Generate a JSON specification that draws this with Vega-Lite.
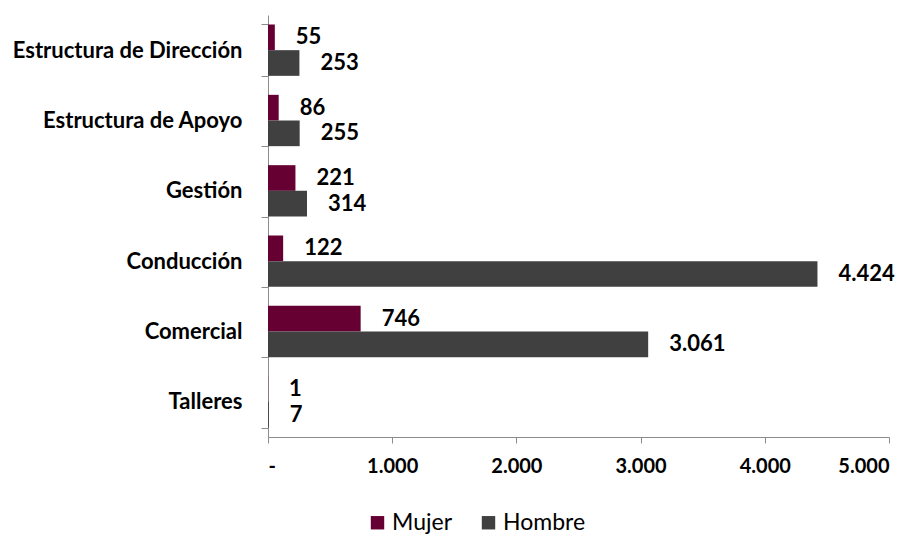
{
  "$schema": "https://vega.github.io/schema/vega-lite/v6.json",
  "width": 621,
  "height": 422,
  "autosize": {"type": "none"},
  "padding": {"left": 268, "top": 15, "right": 26, "bottom": 100},
  "background": "white",
  "config": {
    "locale": {"number": {"decimal": ",", "thousands": ".", "grouping": [3], "currency": ["€", ""]}},
    "font": "Lato",
    "view": {"stroke": null}
  },
  "data": {
    "values": [
      {"cat": "Estructura de Dirección", "sexo": "Mujer", "valor": 55},
      {"cat": "Estructura de Dirección", "sexo": "Hombre", "valor": 253},
      {"cat": "Estructura de Apoyo", "sexo": "Mujer", "valor": 86},
      {"cat": "Estructura de Apoyo", "sexo": "Hombre", "valor": 255},
      {"cat": "Gestión", "sexo": "Mujer", "valor": 221},
      {"cat": "Gestión", "sexo": "Hombre", "valor": 314},
      {"cat": "Conducción", "sexo": "Mujer", "valor": 122},
      {"cat": "Conducción", "sexo": "Hombre", "valor": 4424},
      {"cat": "Comercial", "sexo": "Mujer", "valor": 746},
      {"cat": "Comercial", "sexo": "Hombre", "valor": 3061},
      {"cat": "Talleres", "sexo": "Mujer", "valor": 1},
      {"cat": "Talleres", "sexo": "Hombre", "valor": 7}
    ]
  },
  "encoding": {
    "y": {
      "field": "cat",
      "type": "nominal",
      "sort": ["Estructura de Dirección", "Estructura de Apoyo", "Gestión", "Conducción", "Comercial", "Talleres"],
      "scale": {"paddingInner": 0.27, "paddingOuter": 0.135},
      "axis": {
        "title": null,
        "tickBand": "extent",
        "domainColor": "#8c8c8c",
        "tickColor": "#8c8c8c",
        "tickSize": 7,
        "labelPadding": 19,
        "labelFontSize": 22,
        "labelFontWeight": "bold",
        "labelColor": "#000000",
        "labelLimit": 300,
        "grid": false
      }
    },
    "yOffset": {"field": "sexo", "sort": ["Mujer", "Hombre"]},
    "x": {
      "field": "valor",
      "type": "quantitative",
      "scale": {"domain": [0, 5000], "nice": false},
      "axis": {
        "title": null,
        "values": [0, 1000, 2000, 3000, 4000, 5000],
        "format": ",d",
        "labelExpr": "datum.value == 0 ? '-' : datum.label",
        "grid": false,
        "domainColor": "#8c8c8c",
        "tickColor": "#8c8c8c",
        "tickSize": 6,
        "labelPadding": 13,
        "labelFontSize": 20,
        "labelFontWeight": "bold",
        "labelColor": "#000000"
      }
    }
  },
  "layer": [
    {
      "mark": {"type": "bar"},
      "encoding": {
        "color": {
          "field": "sexo",
          "type": "nominal",
          "sort": ["Mujer", "Hombre"],
          "scale": {"domain": ["Mujer", "Hombre"], "range": ["#660033", "#404040"]},
          "legend": {
            "title": null,
            "orient": "none",
            "legendX": 98,
            "legendY": 496,
            "direction": "horizontal",
            "symbolType": "square",
            "symbolSize": 180,
            "symbolStrokeWidth": 0,
            "labelFontSize": 23,
            "labelColor": "#000000",
            "labelFont": "Lato",
            "labelOffset": 3,
            "columnPadding": 24
          }
        }
      }
    },
    {
      "mark": {"type": "text", "align": "left", "baseline": "middle", "dx": 21, "fontSize": 22, "fontWeight": "bold", "color": "#000000"},
      "encoding": {
        "text": {"field": "valor", "type": "quantitative", "format": ",d"}
      }
    }
  ]
}
